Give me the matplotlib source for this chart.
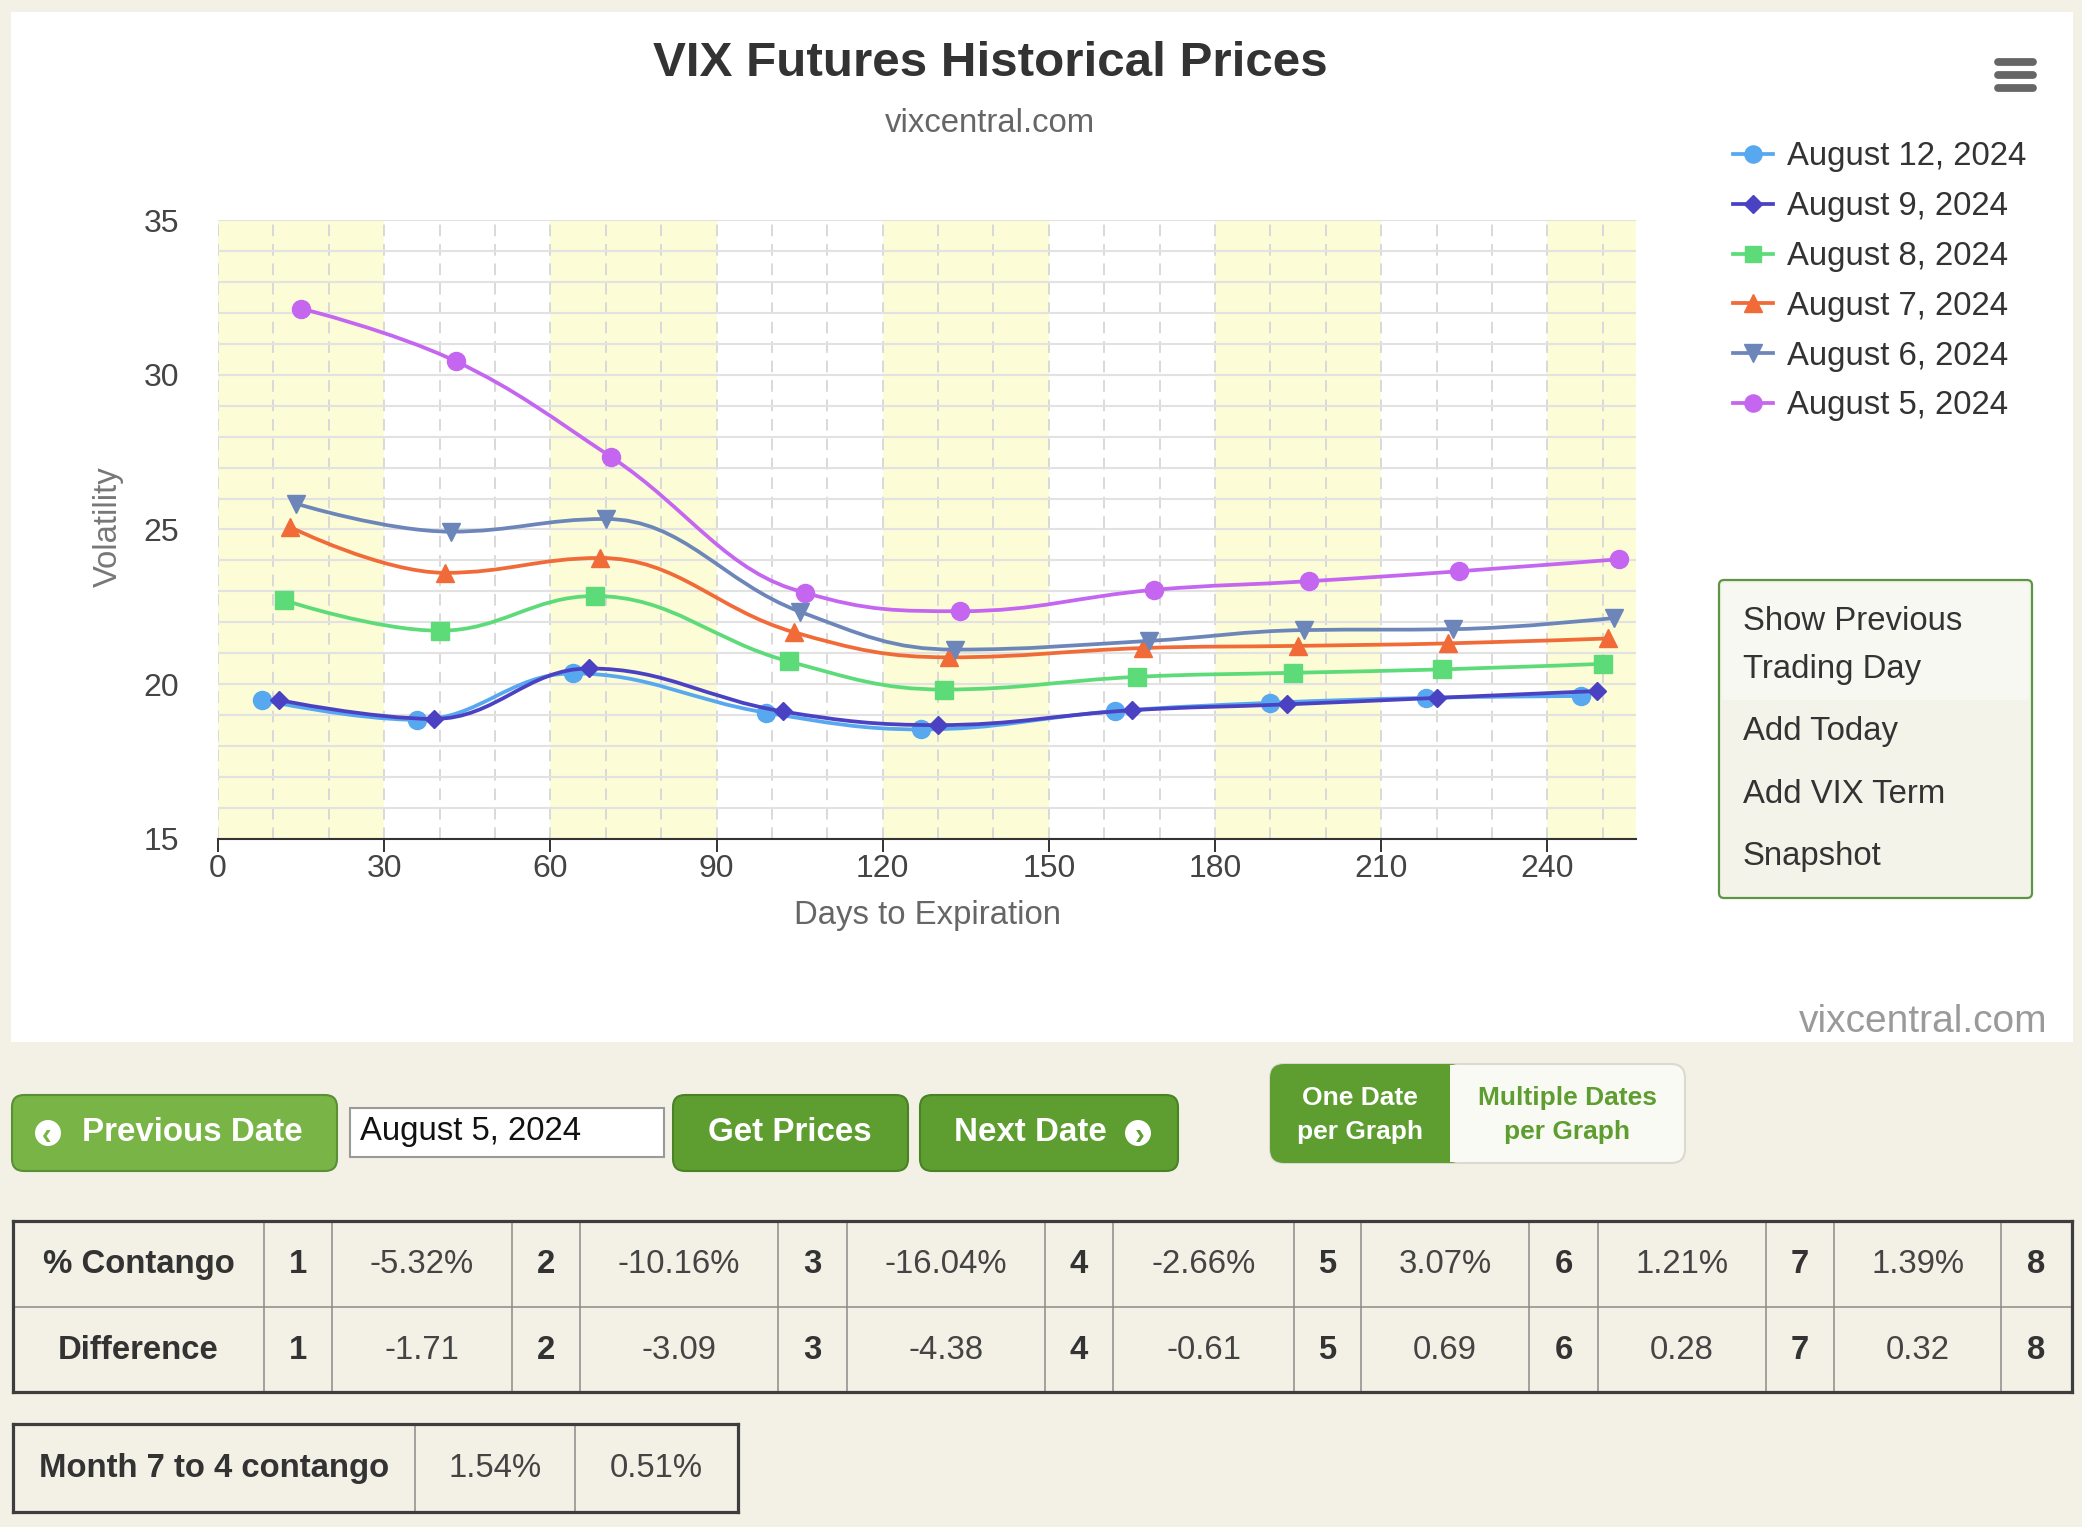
import numpy as np
import matplotlib
matplotlib.use("Agg")
import matplotlib.pyplot as plt
from matplotlib.path import Path
from matplotlib.patches import PathPatch, Rectangle, FancyBboxPatch, Circle
from matplotlib.lines import Line2D

plt.rcParams['font.family'] = ['Liberation Sans', 'DejaVu Sans']

# ---------------- data ----------------
series_labels = ["August 12, 2024", "August 9, 2024", "August 8, 2024",
                 "August 7, 2024", "August 6, 2024", "August 5, 2024"]
days_aug12 = [8, 36, 64, 99, 127, 162, 190, 218, 246]
vol_aug12 = [19.49, 18.85, 20.35, 19.08, 18.54, 19.13, 19.40, 19.56, 19.62]
days_aug9 = [11, 39, 67, 102, 130, 165, 193, 220, 249]
vol_aug9 = [19.49, 18.88, 20.51, 19.12, 18.68, 19.16, 19.35, 19.56, 19.78]
days_aug8 = [12, 40, 68, 103, 131, 166, 194, 221, 250]
vol_aug8 = [22.71, 21.73, 22.85, 20.74, 19.83, 20.24, 20.37, 20.48, 20.66]
days_aug7 = [13, 41, 69, 104, 132, 167, 195, 222, 251]
vol_aug7 = [25.08, 23.60, 24.08, 21.68, 20.87, 21.17, 21.24, 21.32, 21.48]
days_aug6 = [14, 42, 70, 105, 133, 168, 196, 223, 252]
vol_aug6 = [25.84, 24.93, 25.34, 22.35, 21.12, 21.40, 21.75, 21.78, 22.14]
days_aug5 = [15, 43, 71, 106, 134, 169, 197, 224, 253]
vol_aug5 = [32.14, 30.43, 27.34, 22.96, 22.36, 23.05, 23.33, 23.65, 24.04]

band_starts = [0, 60, 120, 180, 240]
band_width = 30
x_ticks = [0, 30, 60, 90, 120, 150, 180, 210, 240]
y_ticks = [15, 20, 25, 30, 35]

menu_items = ["Show Previous", "Trading Day", "Add Today", "Add VIX Term", "Snapshot"]

month_numbers = ["1", "2", "3", "4", "5", "6", "7"]
contango_pct = ["-5.32%", "-10.16%", "-16.04%", "-2.66%", "3.07%", "1.21%", "1.39%"]
contango_diff = ["-1.71", "-3.09", "-4.38", "-0.61", "0.69", "0.28", "0.32"]
last_month = "8"
m7_to_4 = ["1.54%", "0.51%"]

# ---------------- figure ----------------
W, H = 2082, 1527
BG = '#f3f1e6'
FS = 23.7
fig = plt.figure(figsize=(W / 100, H / 100), dpi=100, facecolor=BG)


def fx(x):
    return x / W


def fy(y):
    return 1 - y / H


def rbox(x0, y0, x1, y1, r=0, **kw):
    p = FancyBboxPatch((x0 / 100, (H - y1) / 100), (x1 - x0) / 100, (y1 - y0) / 100,
                       boxstyle=f"round,pad=0,rounding_size={r / 100}",
                       transform=fig.dpi_scale_trans, **kw)
    fig.add_artist(p)
    return p


def hline(x0, x1, y, **kw):
    fig.add_artist(Line2D([fx(x0), fx(x1)], [fy(y), fy(y)], transform=fig.transFigure, **kw))


def vline(x, y0, y1, **kw):
    fig.add_artist(Line2D([fx(x), fx(x)], [fy(y0), fy(y1)], transform=fig.transFigure, **kw))


# white chart panel
rbox(11, 12, 2073, 1042, r=0, facecolor='white', edgecolor='none', zorder=-10)

# ---------------- chart ----------------
ax = fig.add_axes([fx(218), fy(839), (1636 - 218) / W, (839 - 220) / H])
ax.set_facecolor('white')
ax.set_xlim(0, 256)
ax.set_ylim(15, 35)

for s in band_starts:
    ax.axvspan(s, s + band_width, facecolor='#fcfcd6', edgecolor='none', zorder=0.1)

ax.set_xticks(x_ticks)
ax.set_xticks(np.arange(0, 256, 10), minor=True)
ax.set_yticks(y_ticks)
ax.set_yticks(np.arange(15, 36, 1), minor=True)
ax.set_axisbelow(True)
ax.grid(axis='y', which='both', color='#e2e2e2', lw=1.5, ls='-')
ax.grid(axis='x', which='both', color='#d9d9d9', lw=1.4, ls=(0, (6, 4)))

for sp in ['top', 'right', 'left']:
    ax.spines[sp].set_visible(False)
ax.spines['bottom'].set_color('#333333')
ax.spines['bottom'].set_linewidth(1.5)
ax.spines['bottom'].set_zorder(5)

ax.tick_params(axis='x', which='major', length=9.4, width=1.4, color='#333333',
               direction='out', labelsize=23, labelcolor='#444444', pad=1.5)
ax.tick_params(axis='x', which='minor', length=0)
ax.tick_params(axis='y', which='both', length=0, labelsize=23, labelcolor='#444444', pad=28)

ax.set_xlabel('Days to Expiration', fontsize=FS, color='#666666')
ax.xaxis.set_label_coords(0.5, (839 - 916) / 619)
ax.xaxis.label.set_va('center')
ax.set_ylabel('Volatility', fontsize=FS, color='#777777')
ax.yaxis.set_label_coords((108 - 218) / 1418, (839 - 527) / 619)
ax.yaxis.label.set_va('center')


def spline_path(xs, ys):
    """Highcharts-style spline (smoothing 1.5) as cubic Bezier path."""
    n = len(xs)
    verts = [(xs[0], ys[0])]
    codes = [Path.MOVETO]
    right = [None] * n
    sm, den = 1.5, 2.5
    for i in range(1, n):
        x, y = xs[i], ys[i]
        lx, ly = xs[i - 1], ys[i - 1]
        lcx, lcy = x, y
        if i < n - 1:
            nx, ny = xs[i + 1], ys[i + 1]
            lcx = (sm * x + lx) / den
            lcy = (sm * y + ly) / den
            rcx = (sm * x + nx) / den
            rcy = (sm * y + ny) / den
            corr = 0
            if rcx != lcx:
                corr = ((rcy - lcy) * (rcx - x)) / (rcx - lcx) + y - rcy
            lcy += corr
            rcy += corr
            if lcy > ly and lcy > y:
                lcy = max(ly, y)
                rcy = 2 * y - lcy
            elif lcy < ly and lcy < y:
                lcy = min(ly, y)
                rcy = 2 * y - lcy
            if rcy > ny and rcy > y:
                rcy = max(ny, y)
                lcy = 2 * y - rcy
            elif rcy < ny and rcy < y:
                rcy = min(ny, y)
                lcy = 2 * y - rcy
            right[i] = (rcx, rcy)
        c1 = right[i - 1] if right[i - 1] is not None else (lx, ly)
        verts += [c1, (lcx, lcy), (x, y)]
        codes += [Path.CURVE4] * 3
    return Path(verts, codes)


series = [
    (days_aug12, vol_aug12, '#58a8f0', 'o', 13),
    (days_aug9, vol_aug9, '#4a42c2', 'D', 9.2),
    (days_aug8, vol_aug8, '#5edb79', 's', 12.5),
    (days_aug7, vol_aug7, '#f06b37', '^', 13),
    (days_aug6, vol_aug6, '#6d86ba', 'v', 13),
    (days_aug5, vol_aug5, '#c466ef', 'o', 13),
]

handles = []
for k, (xs, ys, c, m, ms) in enumerate(series):
    ax.add_patch(PathPatch(spline_path(xs, ys), facecolor='none', edgecolor=c,
                           lw=2.7, zorder=3 + k * 0.1, capstyle='round', joinstyle='round'))
    ax.plot(xs, ys, ls='none', marker=m, ms=ms, color=c, mec=c, zorder=3.05 + k * 0.1)
    handles.append(Line2D([], [], color=c, lw=2.7, marker=m, ms=ms * 0.95, mec=c))

ax.legend(handles, series_labels, loc='upper left', bbox_to_anchor=(fx(1733), fy(141.5)),
          bbox_transform=fig.transFigure, frameon=False, fontsize=FS,
          handlelength=1.23, handletextpad=0.41, labelspacing=0.57,
          borderpad=0, borderaxespad=0, labelcolor='#333333')

# titles
fig.text(fx(990), fy(76), 'VIX Futures Historical Prices', ha='center', va='baseline',
         fontsize=35.6, fontweight='bold', color='#333333')
fig.text(fx(990), fy(132), 'vixcentral.com', ha='center', va='baseline',
         fontsize=FS, color='#666666')

# hamburger menu icon
for yy in [62, 75, 88]:
    hline(1998, 2033, yy, color='#666666', lw=5.6, solid_capstyle='round')

# context menu box
rbox(1719, 580, 2032, 898, r=5, facecolor='#f4f3ea', edgecolor='#5e9445', lw=1.6)
rbox(1722, 583, 2029, 700, r=4, facecolor='#f8f8f3', edgecolor='none')
for txt, yb in zip(menu_items, [630, 678, 740, 803, 865]):
    fig.text(fx(1743), fy(yb), txt, ha='left', va='baseline', fontsize=FS, color='#333333')

# watermark
fig.text(fx(2047), fy(1032), 'vixcentral.com', ha='right', va='baseline',
         fontsize=28, color='#9a9a9a')

# ---------------- controls ----------------
rbox(12, 1095, 337, 1171, r=12, facecolor='#79b447', edgecolor='#5a8f35', lw=1.5)
rbox(673, 1095, 908, 1171, r=12, facecolor='#5e9d30', edgecolor='#4a8226', lw=1.5)
rbox(920, 1095, 1178, 1171, r=12, facecolor='#5e9d30', edgecolor='#4a8226', lw=1.5)
rbox(350, 1108, 664, 1157, r=0, facecolor='white', edgecolor='#9a9a9a', lw=1.5)

fig.add_artist(Circle((48 / 100, (H - 1133) / 100), 13 / 100, transform=fig.dpi_scale_trans,
                      facecolor='white', edgecolor='none'))
fig.add_artist(Circle((1138 / 100, (H - 1133) / 100), 13 / 100, transform=fig.dpi_scale_trans,
                      facecolor='white', edgecolor='none'))
fig.text(fx(47), fy(1133), '\u2039', ha='center', va='center_baseline', fontsize=21,
         fontweight='bold', color='#79b447')
fig.text(fx(1139), fy(1133), '\u203a', ha='center', va='center_baseline', fontsize=21,
         fontweight='bold', color='#5e9d30')

fig.text(fx(82), fy(1141), 'Previous Date', ha='left', va='baseline', fontsize=23.9,
         fontweight='bold', color='white')
fig.text(fx(790), fy(1141), 'Get Prices', ha='center', va='baseline', fontsize=23.9,
         fontweight='bold', color='white')
fig.text(fx(1030), fy(1141), 'Next Date', ha='center', va='baseline', fontsize=23.9,
         fontweight='bold', color='white')
fig.text(fx(360), fy(1140), 'August 5, 2024', ha='left', va='baseline', fontsize=FS,
         color='#111111')

# toggle
rbox(1270, 1064, 1685, 1163, r=14, facecolor='#fafaf5', edgecolor='#dcdad0', lw=1.5)
rbox(1270, 1064, 1464, 1163, r=14, facecolor='#5e9d30', edgecolor='none')
fig.add_artist(Rectangle((fx(1440), fy(1163)), (1450 - 1440) / W, (1163 - 1064) / H,
                         transform=fig.transFigure, facecolor='#5e9d30', edgecolor='none'))
fig.add_artist(Rectangle((fx(1450), fy(1162)), (1466 - 1450) / W, (1162 - 1065) / H,
                         transform=fig.transFigure, facecolor='#fafaf5', edgecolor='none'))
fig.text(fx(1360), fy(1105), 'One Date', ha='center', va='baseline', fontsize=19,
         fontweight='bold', color='white')
fig.text(fx(1360), fy(1139), 'per Graph', ha='center', va='baseline', fontsize=19,
         fontweight='bold', color='white')
fig.text(fx(1567), fy(1105), 'Multiple Dates', ha='center', va='baseline', fontsize=19,
         fontweight='bold', color='#5e9d30')
fig.text(fx(1567), fy(1139), 'per Graph', ha='center', va='baseline', fontsize=19,
         fontweight='bold', color='#5e9d30')

# ---------------- tables ----------------
col_edges = [13, 264, 332, 512, 580, 778, 847, 1045, 1113, 1294, 1361, 1529, 1598,
             1766, 1834, 2001, 2072]
row_edges = [1221, 1307, 1392]
inner = dict(color='#8a8a8a', lw=1.1)
outer = dict(color='#3d3d3d', lw=2.3)
for xe in col_edges[1:-1]:
    vline(xe, row_edges[0], row_edges[-1], **inner)
hline(col_edges[0], col_edges[-1], row_edges[1], **inner)
hline(col_edges[0], col_edges[-1], row_edges[0], **outer)
hline(col_edges[0], col_edges[-1], row_edges[-1], **outer)
vline(col_edges[0], row_edges[0], row_edges[-1], **outer)
vline(col_edges[-1], row_edges[0], row_edges[-1], **outer)

row1 = ["% Contango"]
row2 = ["Difference"]
for mnum, pct, dif in zip(month_numbers, contango_pct, contango_diff):
    row1 += [mnum, pct]
    row2 += [mnum, dif]
row1.append(last_month)
row2.append(last_month)
for cells, yb in [(row1, 1273), (row2, 1359)]:
    for j, t in enumerate(cells):
        xc = (col_edges[j] + col_edges[j + 1]) / 2
        bold = (j == 0) or (j % 2 == 1)
        fig.text(fx(xc), fy(yb), t, ha='center', va='baseline', fontsize=FS,
                 fontweight='bold' if bold else 'normal',
                 color='#333333' if bold else '#444444')

t2_cols = [13, 415, 575, 738]
t2_rows = [1424, 1512]
for xe in t2_cols[1:-1]:
    vline(xe, t2_rows[0], t2_rows[1], **inner)
hline(t2_cols[0], t2_cols[-1], t2_rows[0], **outer)
hline(t2_cols[0], t2_cols[-1], t2_rows[1], **outer)
vline(t2_cols[0], t2_rows[0], t2_rows[1], **outer)
vline(t2_cols[-1], t2_rows[0], t2_rows[1], **outer)
t2_cells = ["Month 7 to 4 contango"] + m7_to_4
for j, t in enumerate(t2_cells):
    xc = (t2_cols[j] + t2_cols[j + 1]) / 2
    fig.text(fx(xc), fy(1477), t, ha='center', va='baseline', fontsize=FS,
             fontweight='bold' if j == 0 else 'normal',
             color='#333333' if j == 0 else '#444444')

fig.savefig('out.png', dpi=100, facecolor=BG)
